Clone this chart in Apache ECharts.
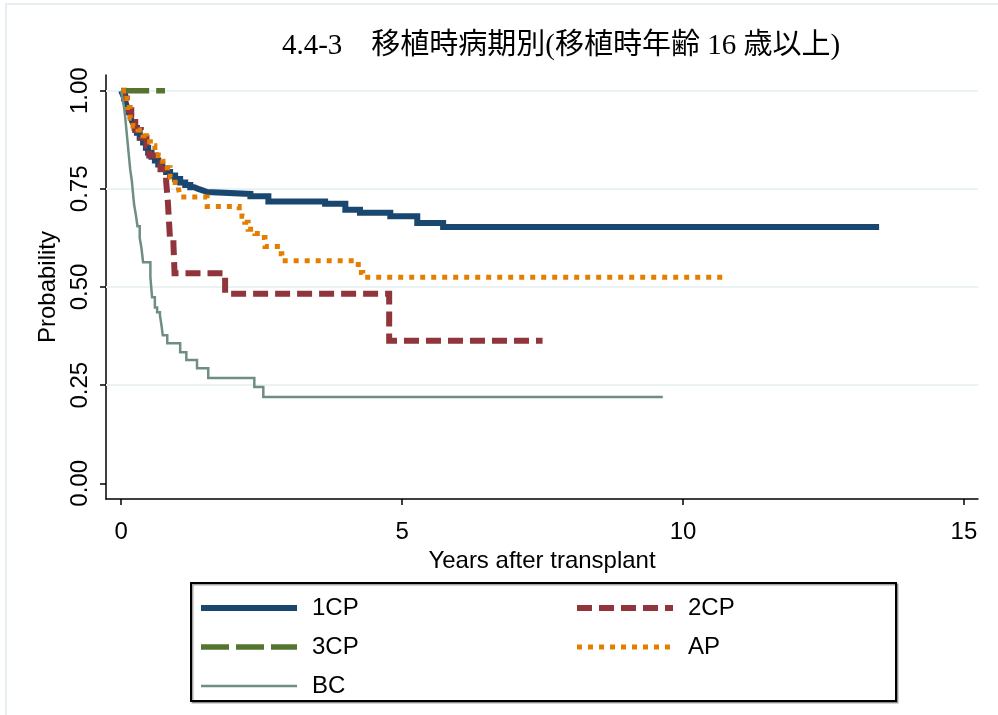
<!DOCTYPE html>
<html>
<head>
<meta charset="utf-8">
<script src="https://cdn.jsdelivr.net/npm/echarts@6/dist/echarts.min.js"></script>
<style>html,body{margin:0;padding:0;background:#fff;}#chart{width:998px;height:715px;}</style>
</head>
<body>
<div id="chart"></div>
<script>
// ---- data (years after transplant, survival probability) ----
const groups = ['1CP', '2CP', '3CP', 'AP', 'BC'];

const t1CP = [0, 0.03, 0.07, 0.10, 0.13, 0.17, 0.20, 0.24, 0.28, 0.33, 0.39, 0.44, 0.48, 0.54, 0.60, 0.66, 0.73, 0.80, 0.87, 0.96, 1.05, 1.14, 1.23, 1.30, 1.37, 1.45, 1.53, 2.30, 2.62, 3.63, 3.99, 4.25, 4.79, 5.27, 5.73, 13.49];
const s1CP = [1, 0.99, 0.975, 0.96, 0.945, 0.93, 0.92, 0.905, 0.893, 0.88, 0.868, 0.855, 0.842, 0.832, 0.822, 0.812, 0.802, 0.793, 0.784, 0.775, 0.766, 0.76, 0.754, 0.75, 0.746, 0.742, 0.737, 0.731, 0.718, 0.712, 0.697, 0.689, 0.680, 0.663, 0.653, 0.653];

const t2CP = [0, 0.05, 0.10, 0.18, 0.25, 0.35, 0.45, 0.50, 0.62, 0.70, 0.80, 0.83, 0.85, 0.87, 0.93, 0.95, 1.85, 4.77, 7.50];
const s2CP = [1, 0.98, 0.95, 0.92, 0.90, 0.88, 0.86, 0.835, 0.815, 0.80, 0.77, 0.72, 0.67, 0.62, 0.61, 0.535, 0.483, 0.363, 0.363];

const t3CP = [0, 0.78];
const s3CP = [1, 1];

const tAP = [0, 0.04, 0.10, 0.16, 0.21, 0.30, 0.39, 0.45, 0.52, 0.60, 0.66, 0.74, 0.82, 0.87, 0.96, 1.02, 1.05, 1.53, 2.10, 2.15, 2.20, 2.26, 2.38, 2.50, 2.56, 2.78, 2.86, 4.22, 4.30, 10.80];
const sAP = [1, 0.98, 0.957, 0.93, 0.91, 0.90, 0.885, 0.87, 0.86, 0.847, 0.835, 0.82, 0.804, 0.78, 0.766, 0.75, 0.729, 0.705, 0.69, 0.68, 0.665, 0.647, 0.636, 0.626, 0.603, 0.585, 0.567, 0.537, 0.525, 0.525];

const tBC = [0, 0.03, 0.06, 0.08, 0.10, 0.12, 0.14, 0.16, 0.19, 0.21, 0.23, 0.26, 0.29, 0.33, 0.36, 0.39, 0.52, 0.55, 0.60, 0.64, 0.69, 0.72, 0.74, 0.82, 1.05, 1.16, 1.35, 1.55, 2.37, 2.53, 9.64];
const sBC = [1, 0.975, 0.95, 0.92, 0.89, 0.86, 0.83, 0.80, 0.77, 0.74, 0.71, 0.685, 0.655, 0.625, 0.60, 0.563, 0.525, 0.474, 0.448, 0.436, 0.428, 0.40, 0.377, 0.357, 0.334, 0.314, 0.293, 0.268, 0.245, 0.22, 0.22];

const xTicks = [0, 5, 10, 15];
const yTicks = [0, 0.25, 0.5, 0.75, 1];
const yGrid = [0.25, 0.5, 0.75, 1];

const titleText = '4.4-3\u3000移植時病期別(移植時年齢 16 歳以上)';
const xName = 'Years after transplant';
const yName = 'Probability';

// ---- styles ----
const colors = {'1CP': '#1a476f', '2CP': '#90353b', '3CP': '#55752f', 'AP': '#e37e00', 'BC': '#6e8e84'};
const widths = {'1CP': 6, '2CP': 6, '3CP': 5.5, 'AP': 5, 'BC': 2.5};
const dashes = {'1CP': 'solid', '2CP': [15, 7], '3CP': [28, 7], 'AP': [5, 6], 'BC': 'solid'};
const seriesData = {
  '1CP': [t1CP, s1CP], '2CP': [t2CP, s2CP], '3CP': [t3CP, s3CP], 'AP': [tAP, sAP], 'BC': [tBC, sBC]
};
const zip = (a, b) => a.map((v, i) => [v, b[i]]);

const FONT = '"Liberation Sans", Arial, sans-serif';
const FS = 24;

const series = [{
  type: 'line', data: [], z: 1, silent: true,
  markLine: {
    z: 1, silent: true, symbol: 'none', animation: false,
    label: {show: false},
    lineStyle: {color: '#eaf2f3', width: 2, type: 'solid'},
    data: yGrid.map(v => ({yAxis: v}))
  }
}];
groups.forEach(g => {
  series.push({
    name: g, type: 'line', step: 'end', showSymbol: false, symbol: 'none',
    data: zip(seriesData[g][0], seriesData[g][1]),
    z: 10, animation: false,
    lineStyle: {color: colors[g], width: widths[g], type: dashes[g], cap: 'butt', join: 'miter'},
    itemStyle: {color: colors[g]}
  });
});

const legendCommon = {
  orient: 'vertical', itemWidth: 96, itemHeight: 24, itemGap: 15, padding: 0,
  selectedMode: false,
  itemStyle: {opacity: 0},
  lineStyle: {width: 'inherit'},
  textStyle: {fontSize: FS, fontFamily: FONT, color: '#000', lineHeight: 24, padding: [0, 0, 0, 10]}
};

const chart = echarts.init(document.getElementById('chart'), null, {renderer: 'canvas'});
chart.setOption({
  backgroundColor: '#fff',
  animation: false,
  color: groups.map(g => colors[g]),
  title: {
    text: titleText, left: 556, top: 27, textAlign: 'center',
    textStyle: {fontSize: 29, fontWeight: 'normal', color: '#000', fontFamily: '"Liberation Serif", "Noto Sans CJK JP", serif'}
  },
  graphic: [
    {type: 'rect', z: -10, shape: {x: 6, y: 4, width: 1000, height: 800}, style: {fill: 'none', stroke: '#e6eef2', lineWidth: 2}},
    {type: 'rect', z: 0, shape: {x: 191, y: 583, width: 705, height: 118},
     style: {fill: '#fff', stroke: '#000', lineWidth: 2, shadowColor: 'rgba(0,0,0,0.35)', shadowOffsetX: 1.5, shadowOffsetY: 1.5, shadowBlur: 0}}
  ],
  legend: [
    Object.assign({}, legendCommon, {data: ['1CP', '3CP', 'BC'], left: 198, top: 596}),
    Object.assign({}, legendCommon, {data: ['2CP', 'AP'], left: 574, top: 596})
  ],
  grid: {left: 106, right: 20, top: 75, bottom: 216, containLabel: false},
  xAxis: {
    type: 'value', min: -0.27, max: 15.25,
    axisLine: {show: true, onZero: false, lineStyle: {color: '#000', width: 1.5}},
    axisTick: {show: true, length: 6, customValues: xTicks, lineStyle: {color: '#000', width: 1.5}},
    axisLabel: {customValues: xTicks, fontSize: FS, fontFamily: FONT, color: '#000', margin: 21},
    splitLine: {show: false},
    name: xName, nameLocation: 'middle', nameGap: 44,
    nameTextStyle: {fontSize: FS, fontFamily: FONT, color: '#000'}
  },
  yAxis: {
    type: 'value', min: -0.04, max: 1.04,
    axisLine: {show: true, onZero: false, lineStyle: {color: '#000', width: 1.5}},
    axisTick: {show: true, length: 6, customValues: yTicks, lineStyle: {color: '#000', width: 1.5}},
    axisLabel: {customValues: yTicks, rotate: 90, fontSize: FS, fontFamily: FONT, color: '#000', margin: 14,
      formatter: v => v.toFixed(2)},
    splitLine: {show: false},
    name: yName, nameLocation: 'middle', nameGap: 43, nameRotate: 90,
    nameTextStyle: {fontSize: FS, fontFamily: FONT, color: '#000'}
  },
  series: series
});
</script>
</body>
</html>
